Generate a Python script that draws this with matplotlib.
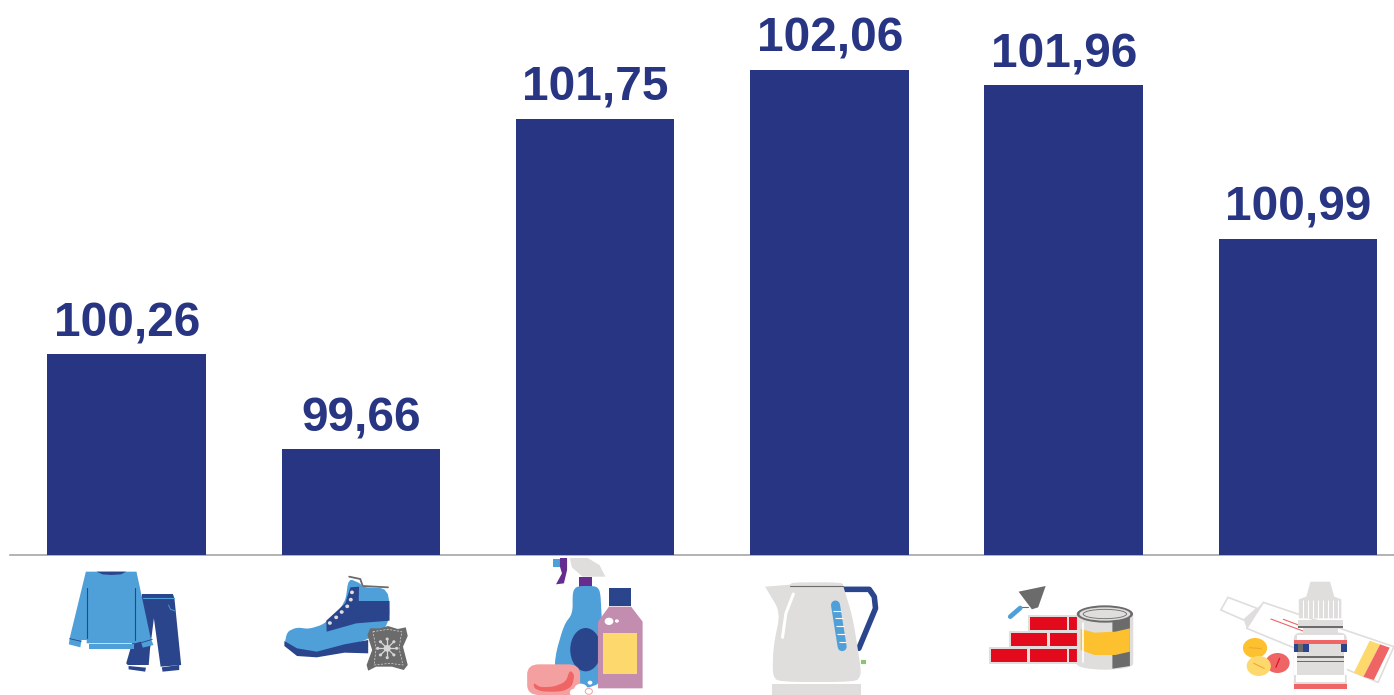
import numpy as np
import matplotlib
matplotlib.use('Agg')
import matplotlib.pyplot as plt
from matplotlib.patches import Polygon, Ellipse, FancyBboxPatch, Rectangle
from matplotlib.transforms import Affine2D

plt.rcParams['font.family'] = ['Liberation Sans', 'DejaVu Sans']

groups = ["clothes", "shoes", "household", "appliances", "building", "medicine"]
values = [100.26, 99.66, 101.75, 102.06, 101.96, 100.99]

NAVY = "#283583"
BLUE = "#4F9FD9"
DARK = "#2A458C"
GRAY = "#DFDEDC"
STEEL = "#6B6B6B"
RED = "#E30A1E"
YELLOW = "#FDC02F"
PALE = "#FDD96D"
SALMON = "#EF6464"

W, H = 1394, 695
fig = plt.figure(figsize=(W / 100, H / 100), dpi=100)

# axes run from the left of the first bar's slot to the cropped right edge
ax = fig.add_axes([10 / W, (H - 555) / H, (W - 10) / W, 555 / H])
x = np.arange(len(values))
ax.bar(x, values, width=0.676, color=NAVY, zorder=3)
ax.set_xlim(-0.497, 5.41)
ax.set_ylim(98.99, 102.5)
for s in ["top", "left", "right"]:
    ax.spines[s].set_visible(False)
ax.spines["bottom"].set_color("#A6A6A6")
ax.spines["bottom"].set_linewidth(1.2)
ax.set_xticks([])
ax.set_yticks([])
for xi, v in zip(x, values):
    ax.annotate(f"{v:.2f}".replace(".", ","), (xi, v), xytext=(0.4, 12.8),
                textcoords="offset points", ha="center", va="baseline",
                fontsize=34.5, fontweight="bold", color=NAVY, zorder=4)

# icons below the axis, drawn on an overlay in pixel coordinates
ov = fig.add_axes([0, 0, 1, 1], facecolor="none")
ov.set_xlim(0, W)
ov.set_ylim(H, 0)
ov.axis("off")

# the shapes were measured on two enlarged crops of the strip
left_tr = Affine2D().scale(1 / 2.529, 1 / 3).translate(40, 550) + ov.transData
right_tr = Affine2D().scale(1 / 2.398, 1 / 3).translate(740, 550) + ov.transData
tr = left_tr


def soften(pts, rounds=2):
    # corner cutting so the drawn outlines don't look angular
    p = np.array(pts, dtype=float)
    for _ in range(rounds):
        q = np.roll(p, -1, axis=0)
        p = np.column_stack([0.8 * p + 0.2 * q, 0.2 * p + 0.8 * q]).reshape(-1, 2)
    return p


def poly(pts, color, z=5, fill=True, lw=0, smooth=False):
    if smooth:
        pts = soften(pts)
    ov.add_patch(Polygon(pts, closed=True, fill=fill, facecolor=color if fill else "none",
                         edgecolor=color, linewidth=lw, joinstyle="round",
                         transform=tr, zorder=z, clip_on=False))


def box(x0, y0, x1, y1, color, z=5):
    ov.add_patch(Rectangle((x0, y0), x1 - x0, y1 - y0, facecolor=color, linewidth=0,
                           transform=tr, zorder=z, clip_on=False))


def rbox(x0, y0, x1, y1, r, color, z=5):
    ov.add_patch(FancyBboxPatch((x0, y0), x1 - x0, y1 - y0,
                                boxstyle=f"round,pad=0,rounding_size={r}",
                                facecolor=color, linewidth=0, transform=tr,
                                zorder=z, clip_on=False))


def oval(cx, cy, w, h, color, z=5, fill=True, lw=0):
    ov.add_patch(Ellipse((cx, cy), w, h, fill=fill, facecolor=color if fill else "none",
                         edgecolor=color, linewidth=lw, transform=tr, zorder=z, clip_on=False))


def line(pts, color, lw=1.0, z=6, cap="round", ls="-"):
    p = np.array(pts)
    ov.plot(p[:, 0], p[:, 1], color=color, lw=lw, transform=tr, zorder=z,
            solid_capstyle=cap, solid_joinstyle="round", ls=ls, clip_on=False)


# clothes
poly([(258, 132), (336, 132), (340, 145), (357, 345), (305, 350), (288, 205), (278, 300),
      (275, 345), (222, 345), (218, 340), (240, 250)], DARK)
poly([(224, 348), (268, 353), (266, 365), (224, 358)], DARK)
poly([(308, 352), (352, 345), (352, 360), (310, 365)], DARK)
line([(260, 145), (340, 145)], BLUE, 0.8)
line([(325, 165), (330, 178), (342, 183)], BLUE, 0.6)
poly([(116, 65), (244, 65), (280, 265), (287, 285), (260, 293), (255, 275), (240, 280),
      (118, 280), (118, 270), (105, 270), (102, 292), (73, 283), (75, 265)], BLUE, 6)
box(124, 281, 238, 297, BLUE, 6)
poly([(143, 65), (218, 65), (205, 73), (180, 75), (158, 73)], DARK, 7)
line([(118, 115), (118, 265)], DARK, 0.8, 7)
line([(241, 115), (241, 270)], DARK, 0.8, 7)
line([(75, 266), (104, 274)], DARK, 0.6, 7)
line([(256, 278), (284, 268)], DARK, 0.6, 7)

# shoes
poly([(625, 245), (650, 232), (680, 237), (720, 222), (772, 160), (780, 85), (810, 100),
      (816, 112), (882, 115), (884, 225), (828, 270), (760, 290), (700, 312), (650, 305),
      (618, 285)], BLUE, smooth=True)
poly([(618, 273), (650, 295), (700, 305), (770, 283), (830, 270), (830, 310), (770, 308),
      (700, 322), (650, 318), (618, 288)], DARK, 6)
poly([(725, 245), (724, 212), (772, 160), (785, 112), (807, 110), (806, 153), (884, 153),
      (884, 212), (800, 220)], DARK, 6)
line([(782, 80), (810, 87), (816, 108), (880, 112)], STEEL, 1.3, 7)
for ex, ey in [(789, 127), (786, 149), (777, 169), (763, 186), (749, 202), (733, 219)]:
    oval(ex, ey, 10, 11, GRAY, 8)
poly([(835, 235), (860, 235), (880, 228), (905, 237), (925, 232), (930, 258), (918, 290),
      (930, 345), (920, 360), (890, 350), (850, 350), (830, 362), (826, 345), (840, 300),
      (828, 255)], STEEL, 8)
line([(842, 245), (880, 238), (915, 245), (908, 295), (918, 345), (885, 340), (845, 345),
      (850, 295), (842, 245)], "#D6D6D6", 0.5, 9, ls=(0, (3, 2)))
for ang in np.arange(0, 180, 45):
    dx, dy = 24 * np.cos(np.radians(ang)), 28 * np.sin(np.radians(ang))
    line([(878 - dx, 295 - dy), (878 + dx, 295 + dy)], "#D6D6D6", 0.9, 9)
    oval(878 - dx, 295 - dy, 8, 9, "#D6D6D6", 9)
    oval(878 + dx, 295 + dy, 8, 9, "#D6D6D6", 9)
oval(878, 295, 18, 20, "#D6D6D6", 9)

# household
poly([(1340, 24), (1385, 24), (1415, 45), (1430, 80), (1372, 80), (1345, 52)], GRAY)
box(1297, 27, 1320, 52, BLUE)
poly([(1315, 24), (1333, 24), (1333, 60), (1325, 100), (1305, 103), (1320, 70), (1315, 50)], "#662D91", 6)
box(1363, 82, 1397, 110, "#662D91")
poly([(1358, 108), (1407, 108), (1417, 125), (1420, 190), (1430, 412), (1302, 412), (1302, 320),
      (1325, 225), (1347, 190), (1347, 125)], BLUE, 6, smooth=True)
oval(1380, 299, 78, 130, DARK, 7)
poly([(1439, 170), (1495, 170), (1524, 215), (1524, 415), (1411, 415), (1411, 215)], "#C28DAE", 8)
box(1439, 114, 1495, 168, DARK, 8)
box(1424, 249, 1511, 372, PALE, 9)
oval(1439, 214, 22, 22, "white", 9)
oval(1459, 213, 10, 10, "white", 9)
rbox(1232, 343, 1366, 435, 30, "#F5A0A0", 10)
poly([(1248, 398), (1265, 412), (1300, 410), (1330, 395), (1340, 360), (1352, 375), (1345, 410),
      (1320, 425), (1270, 425), (1250, 415)], SALMON, 11, smooth=True)
oval(1368, 418, 34, 34, "white", 12)
oval(1352, 428, 24, 24, "white", 12)
oval(1388, 424, 18, 18, "#F5A0A0", 12, False, 0.7)
oval(1391, 398, 12, 12, "white", 12)

# appliances
tr = right_tr
line([(250, 118), (310, 118), (322, 140), (325, 175), (285, 295)], DARK, 4.0)
poly([(60, 110), (120, 105), (125, 97), (245, 97), (248, 110), (270, 200), (288, 340), (290, 375),
      (278, 396), (92, 396), (78, 375), (80, 290), (97, 185)], GRAY, 6, smooth=True)
poly([(60, 110), (122, 105), (122, 150), (97, 185)], GRAY, 6)
line([(120, 109), (247, 109)], STEEL, 0.8, 7)
line([(128, 132), (110, 190), (102, 262)], "white", 2.2, 7)
line([(229, 165), (245, 290)], BLUE, 6.5, 7)
for ty in [182, 205, 229, 253, 277]:
    line([(222 + (ty - 165) * 0.128, ty), (241 + (ty - 165) * 0.128, ty)], "white", 0.8, 8, "butt")
line([(290, 337), (302, 337)], "#8CC56E", 3.0, 5, "butt")
box(77, 402, 290, 435, GRAY)

# building materials
poly([(690, 196), (810, 196), (810, 342), (597, 342), (597, 290), (645, 290), (645, 243), (690, 243)], GRAY)
for b in [(696, 202, 783, 241), (789, 202, 810, 241), (650, 249, 736, 288), (743, 249, 810, 288),
          (603, 296, 689, 336), (696, 296, 783, 336), (789, 296, 810, 336)]:
    box(*b, RED, 6)
poly([(733, 108), (715, 172), (700, 178), (668, 125)], STEEL, smooth=False)
line([(690, 172), (672, 172)], STEEL, 0.8)
line([(648, 200), (672, 174)], BLUE, 3.4)
poly([(808, 192), (943, 192), (943, 340), (875, 358), (808, 340)], GRAY, 7)
oval(875, 342, 135, 34, GRAY, 7)
poly([(893, 205), (935, 200), (935, 348), (893, 356)], STEEL, 8)
poly([(817, 237), (850, 248), (900, 245), (935, 235), (935, 305), (900, 315), (850, 315), (817, 300)], YELLOW, 9)
oval(875, 192, 135, 52, STEEL, 10)
oval(875, 192, 122, 40, GRAY, 11)
oval(875, 192, 104, 28, STEEL, 12, False, 0.6)
line([(823, 220), (823, 335)], "white", 1.2, 12)

# medicine
poly([(1255, 157), (1568, 290), (1530, 397), (1215, 235)], GRAY, 5, False, 1.2)
poly([(1170, 142), (1240, 175), (1208, 210), (1153, 180)], GRAY, 5, False, 1.2)
poly([(1255, 157), (1215, 235), (1208, 210), (1240, 175)], GRAY)
poly([(1510, 272), (1535, 283), (1495, 380), (1472, 368)], PALE)
poly([(1535, 283), (1558, 293), (1520, 390), (1495, 380)], SALMON)
line([(1273, 207), (1350, 243)], SALMON, 0.8)
line([(1303, 208), (1350, 230)], SALMON, 0.8)
oval(1235, 294, 58, 60, YELLOW)
oval(1289, 339, 58, 60, SALMON)
oval(1244, 348, 58, 60, PALE, 6)
line([(1222, 293), (1250, 296)], "#F0A830", 0.8, 7)
line([(1232, 340), (1257, 355)], "#F0A830", 0.8, 7)
line([(1285, 352), (1294, 325)], RED, 0.8, 7)
poly([(1368, 95), (1415, 95), (1425, 140), (1442, 148), (1442, 205), (1340, 205), (1340, 148),
      (1358, 140)], GRAY, 8)
for sx in np.arange(1350, 1440, 12):
    line([(sx, 150), (sx, 204)], "white", 0.8, 9, "butt")
box(1338, 210, 1447, 232, GRAY, 8)
box(1338, 228, 1447, 234, STEEL, 9)
box(1350, 234, 1435, 250, GRAY, 8)
rbox(1328, 248, 1455, 417, 18, GRAY, 8)
box(1335, 256, 1448, 270, "white", 9)
box(1328, 270, 1455, 282, SALMON, 9)
box(1328, 282, 1335, 375, "white", 9)
box(1448, 282, 1455, 375, "white", 9)
box(1328, 282, 1365, 306, DARK, 10)
box(1338, 282, 1351, 306, STEEL, 11)
box(1441, 282, 1455, 306, DARK, 10)
box(1335, 318, 1448, 323, STEEL, 10)
box(1335, 332, 1448, 335, STEEL, 10)
box(1333, 375, 1451, 397, "white", 9)
box(1328, 402, 1455, 417, SALMON, 9)

fig.savefig("out.png", dpi=100, facecolor="white")
